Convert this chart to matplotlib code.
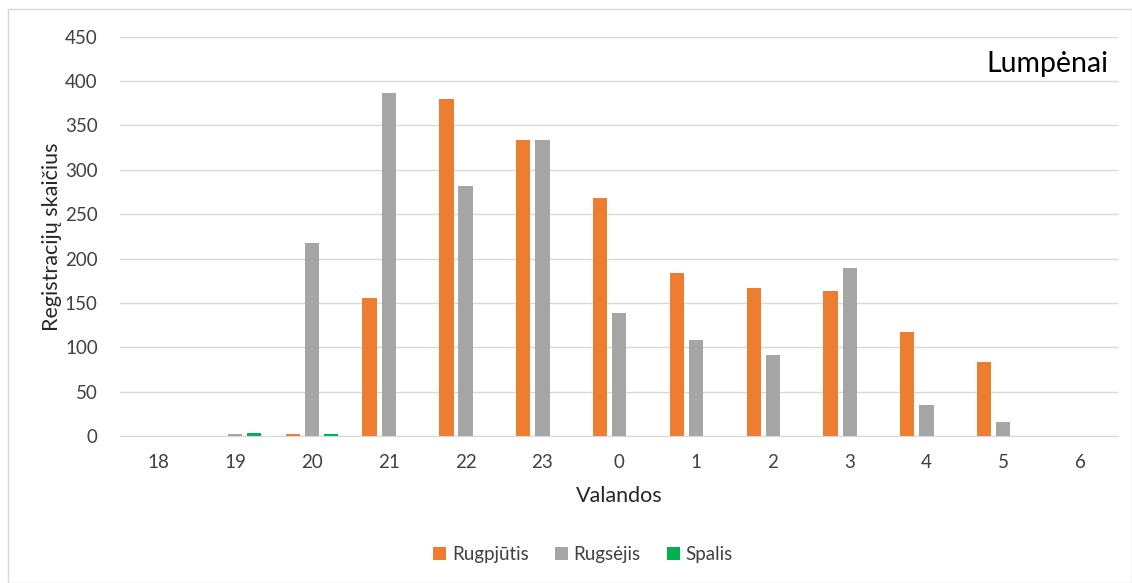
import matplotlib
matplotlib.use("Agg")
import matplotlib.pyplot as plt
import numpy as np
from matplotlib.patches import Rectangle

hours = ["18", "19", "20", "21", "22", "23", "0", "1", "2", "3", "4", "5", "6"]
rugpjutis = [0, 0, 2, 156, 380, 334, 268, 184, 167, 163, 117, 83, 0]
rugsejis = [0, 2, 218, 387, 282, 334, 139, 108, 91, 189, 35, 16, 0]
spalis = [0, 3, 2, 0, 0, 0, 0, 0, 0, 0, 0, 0, 0]

plt.rcParams['font.family'] = ['Lato', 'DejaVu Sans']

fig = plt.figure(figsize=(11.32, 5.83), dpi=100)
ax = fig.add_axes([0.106, 0.252, 0.882, 0.685])

x = np.arange(len(hours))
w = 0.185
ax.bar(x - 0.25, rugpjutis, w, color="#ED7D31", label="Rugpjūtis")
ax.bar(x, rugsejis, w, color="#A5A5A5", label="Rugsėjis")
ax.bar(x + 0.25, spalis, w, color="#00B050", label="Spalis")

ax.set_xlim(-0.5, len(hours) - 0.5)
ax.set_ylim(0, 450)
ax.set_yticks(range(0, 451, 50))
ax.set_xticks(x)
ax.set_xticklabels(hours)
ax.yaxis.grid(True, color="#D9D9D9", linewidth=1)
ax.set_axisbelow(True)
for s in ["top", "right", "left"]:
    ax.spines[s].set_visible(False)
ax.spines["bottom"].set_color("#D9D9D9")
ax.tick_params(axis="both", length=0, labelsize=13.5, colors="#404040")
ax.tick_params(axis="x", pad=13)
ax.tick_params(axis="y", pad=16)

ax.set_xlabel("Valandos", fontsize=15.5, color="#262626", labelpad=11)
ax.set_ylabel("Registracijų skaičius", fontsize=15.5, color="#262626", labelpad=2)
ax.text(0.99, 0.965, "Lumpėnai", transform=ax.transAxes, ha="right", va="top",
        fontsize=20.5, color="#000000")

fig.legend(loc="center", bbox_to_anchor=(0.515, 0.049), ncol=3, frameon=False,
           fontsize=13.5, handlelength=0.7, handleheight=0.7, columnspacing=1.4,
           handletextpad=0.3, labelcolor="#404040")

fig.patches.append(Rectangle((0.007, 0.0), 0.993, 0.985, transform=fig.transFigure,
                             fill=False, edgecolor="#D9D9D9", linewidth=1))

fig.savefig("out.png", dpi=100)
